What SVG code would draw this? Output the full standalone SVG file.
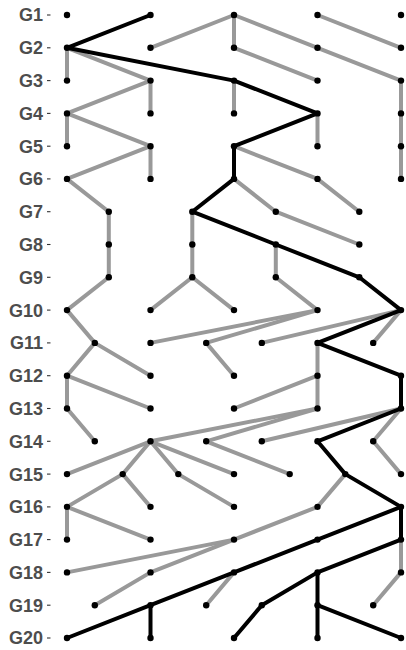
<svg xmlns="http://www.w3.org/2000/svg" width="406" height="650" viewBox="0 0 406 650">
<style>
.lbl{font-family:"Liberation Sans",Arial,sans-serif;font-weight:bold;font-size:18px;fill:#4D4D4D;text-anchor:end}
.tick{stroke:#333;stroke-width:1.1}
.e{fill:none;stroke-width:4;stroke-linecap:round;stroke-linejoin:round}
.g{stroke:#999999}
.b{stroke:#000000}
.n circle{fill:#000}
</style>
<rect width="406" height="650" fill="#fff"/>
<g id="axis">
<g class="tick">
<line x1="47" x2="50.5" y1="15" y2="15"/><line x1="47" x2="50.5" y1="47.8" y2="47.8"/><line x1="47" x2="50.5" y1="80.6" y2="80.6"/><line x1="47" x2="50.5" y1="113.4" y2="113.4"/><line x1="47" x2="50.5" y1="146.2" y2="146.2"/><line x1="47" x2="50.5" y1="178.9" y2="178.9"/><line x1="47" x2="50.5" y1="211.7" y2="211.7"/><line x1="47" x2="50.5" y1="244.5" y2="244.5"/><line x1="47" x2="50.5" y1="277.3" y2="277.3"/><line x1="47" x2="50.5" y1="310.1" y2="310.1"/><line x1="47" x2="50.5" y1="342.9" y2="342.9"/><line x1="47" x2="50.5" y1="375.7" y2="375.7"/><line x1="47" x2="50.5" y1="408.5" y2="408.5"/><line x1="47" x2="50.5" y1="441.3" y2="441.3"/><line x1="47" x2="50.5" y1="474.1" y2="474.1"/><line x1="47" x2="50.5" y1="506.9" y2="506.9"/><line x1="47" x2="50.5" y1="539.6" y2="539.6"/><line x1="47" x2="50.5" y1="572.4" y2="572.4"/><line x1="47" x2="50.5" y1="605.2" y2="605.2"/><line x1="47" x2="50.5" y1="638" y2="638"/>
</g>
<text class="lbl" x="43" y="21.4">G1</text>
<text class="lbl" x="43" y="54.2">G2</text>
<text class="lbl" x="43" y="87">G3</text>
<text class="lbl" x="43" y="119.8">G4</text>
<text class="lbl" x="43" y="152.6">G5</text>
<text class="lbl" x="43" y="185.3">G6</text>
<text class="lbl" x="43" y="218.1">G7</text>
<text class="lbl" x="43" y="250.9">G8</text>
<text class="lbl" x="43" y="283.7">G9</text>
<text class="lbl" x="43" y="316.5">G10</text>
<text class="lbl" x="43" y="349.3">G11</text>
<text class="lbl" x="43" y="382.1">G12</text>
<text class="lbl" x="43" y="414.9">G13</text>
<text class="lbl" x="43" y="447.7">G14</text>
<text class="lbl" x="43" y="480.5">G15</text>
<text class="lbl" x="43" y="513.3">G16</text>
<text class="lbl" x="43" y="546">G17</text>
<text class="lbl" x="43" y="578.8">G18</text>
<text class="lbl" x="43" y="611.6">G19</text>
<text class="lbl" x="43" y="644.4">G20</text>
</g>
<g id="connectors">
<g class="e g">
<path d="M234 15L150.5 47.8"/><path d="M234 15L234 47.8"/><path d="M234 15L317.5 47.8"/><path d="M317.5 15L401 47.8"/>
<path d="M67 47.8L67 80.6"/><path d="M67 47.8L150.5 80.6"/><path d="M234 47.8L317.5 80.6"/><path d="M317.5 47.8L401 80.6"/>
<path d="M150.5 80.6L67 113.4"/><path d="M150.5 80.6L150.5 113.4"/><path d="M234 80.6L234 113.4"/><path d="M401 80.6L401 113.4"/>
<path d="M67 113.4L67 146.2"/><path d="M67 113.4L150.5 146.2"/><path d="M317.5 113.4L317.5 146.2"/><path d="M401 113.4L401 146.2"/>
<path d="M150.5 146.2L67 178.9"/><path d="M150.5 146.2L150.5 178.9"/><path d="M234 146.2L317.5 178.9"/><path d="M401 146.2L401 178.9"/>
<path d="M67 178.9L108.8 211.7"/><path d="M234 178.9L275.8 211.7"/><path d="M317.5 178.9L359.3 211.7"/>
<path d="M108.8 211.7L108.8 244.5"/><path d="M192.3 211.7L192.3 244.5"/><path d="M275.8 211.7L359.3 244.5"/>
<path d="M108.8 244.5L108.8 277.3"/><path d="M192.3 244.5L192.3 277.3"/><path d="M275.8 244.5L275.8 277.3"/>
<path d="M108.8 277.3L67 310.1"/><path d="M192.3 277.3L150.5 310.1"/><path d="M192.3 277.3L234 310.1"/><path d="M275.8 277.3L317.5 310.1"/>
<path d="M67 310.1L94.8 342.9"/><path d="M317.5 310.1L150.5 342.9"/><path d="M317.5 310.1L206.2 342.9"/><path d="M401 310.1L261.8 342.9"/><path d="M401 310.1L373.2 342.9"/>
<path d="M94.8 342.9L67 375.7"/><path d="M94.8 342.9L150.5 375.7"/><path d="M206.2 342.9L234 375.7"/><path d="M317.5 342.9L317.5 375.7"/>
<path d="M67 375.7L67 408.5"/><path d="M67 375.7L150.5 408.5"/><path d="M317.5 375.7L234 408.5"/><path d="M317.5 375.7L317.5 408.5"/>
<path d="M67 408.5L94.8 441.3"/><path d="M317.5 408.5L150.5 441.3"/><path d="M317.5 408.5L206.2 441.3"/><path d="M401 408.5L261.8 441.3"/><path d="M401 408.5L373.2 441.3"/>
<path d="M150.5 441.3L67 474.1"/><path d="M150.5 441.3L122.7 474.1"/><path d="M150.5 441.3L178.3 474.1"/><path d="M150.5 441.3L234 474.1"/><path d="M206.2 441.3L289.7 474.1"/><path d="M373.2 441.3L401 474.1"/>
<path d="M122.7 474.1L67 506.9"/><path d="M122.7 474.1L150.5 506.9"/><path d="M178.3 474.1L234 506.9"/><path d="M345.3 474.1L317.5 506.9"/>
<path d="M67 506.9L67 539.6"/><path d="M67 506.9L150.5 539.6"/><path d="M317.5 506.9L234 539.6"/>
<path d="M234 539.6L67 572.4"/><path d="M234 539.6L150.5 572.4"/><path d="M401 539.6L401 572.4"/>
<path d="M150.5 572.4L94.8 605.2"/><path d="M234 572.4L206.2 605.2"/><path d="M401 572.4L373.2 605.2"/>
</g>
<g class="e b">
<path d="M150.5 15L67 47.8"/><path d="M67 47.8L234 80.6"/><path d="M234 80.6L317.5 113.4"/><path d="M317.5 113.4L234 146.2"/><path d="M234 146.2L234 178.9"/><path d="M234 178.9L192.3 211.7"/><path d="M192.3 211.7L275.8 244.5"/><path d="M275.8 244.5L359.3 277.3"/><path d="M359.3 277.3L401 310.1"/><path d="M401 310.1L317.5 342.9"/><path d="M317.5 342.9L401 375.7"/><path d="M401 375.7L401 408.5"/><path d="M401 408.5L317.5 441.3"/><path d="M317.5 441.3L345.3 474.1"/><path d="M345.3 474.1L401 506.9"/>
<path d="M401 506.9L317.5 539.6"/><path d="M401 506.9L401 539.6"/>
<path d="M317.5 539.6L234 572.4"/><path d="M401 539.6L317.5 572.4"/>
<path d="M234 572.4L150.5 605.2"/><path d="M317.5 572.4L261.8 605.2"/><path d="M317.5 572.4L317.5 605.2"/>
<path d="M150.5 605.2L67 638"/><path d="M150.5 605.2L150.5 638"/><path d="M261.8 605.2L234 638"/><path d="M317.5 605.2L317.5 638"/><path d="M317.5 605.2L401 638"/>
</g>
</g>
<g id="nodes" class="n">
<g id="g1-0"><circle cx="67" cy="15" r="3.2"/></g><g id="g1-3"><circle cx="150.5" cy="15" r="3.2"/></g><g id="g1-6"><circle cx="234" cy="15" r="3.2"/></g><g id="g1-9"><circle cx="317.5" cy="15" r="3.2"/></g><g id="g1-12"><circle cx="401" cy="15" r="3.2"/></g>
<g id="g2-0"><circle cx="67" cy="47.8" r="3.2"/></g><g id="g2-3"><circle cx="150.5" cy="47.8" r="3.2"/></g><g id="g2-6"><circle cx="234" cy="47.8" r="3.2"/></g><g id="g2-9"><circle cx="317.5" cy="47.8" r="3.2"/></g><g id="g2-12"><circle cx="401" cy="47.8" r="3.2"/></g>
<g id="g3-0"><circle cx="67" cy="80.6" r="3.2"/></g><g id="g3-3"><circle cx="150.5" cy="80.6" r="3.2"/></g><g id="g3-6"><circle cx="234" cy="80.6" r="3.2"/></g><g id="g3-9"><circle cx="317.5" cy="80.6" r="3.2"/></g><g id="g3-12"><circle cx="401" cy="80.6" r="3.2"/></g>
<g id="g4-0"><circle cx="67" cy="113.4" r="3.2"/></g><g id="g4-3"><circle cx="150.5" cy="113.4" r="3.2"/></g><g id="g4-6"><circle cx="234" cy="113.4" r="3.2"/></g><g id="g4-9"><circle cx="317.5" cy="113.4" r="3.2"/></g><g id="g4-12"><circle cx="401" cy="113.4" r="3.2"/></g>
<g id="g5-0"><circle cx="67" cy="146.2" r="3.2"/></g><g id="g5-3"><circle cx="150.5" cy="146.2" r="3.2"/></g><g id="g5-6"><circle cx="234" cy="146.2" r="3.2"/></g><g id="g5-9"><circle cx="317.5" cy="146.2" r="3.2"/></g><g id="g5-12"><circle cx="401" cy="146.2" r="3.2"/></g>
<g id="g6-0"><circle cx="67" cy="178.9" r="3.2"/></g><g id="g6-3"><circle cx="150.5" cy="178.9" r="3.2"/></g><g id="g6-6"><circle cx="234" cy="178.9" r="3.2"/></g><g id="g6-9"><circle cx="317.5" cy="178.9" r="3.2"/></g><g id="g6-12"><circle cx="401" cy="178.9" r="3.2"/></g>
<g id="g7-1"><circle cx="108.8" cy="211.7" r="3.2"/></g><g id="g7-2"><circle cx="192.3" cy="211.7" r="3.2"/></g><g id="g7-3"><circle cx="275.8" cy="211.7" r="3.2"/></g><g id="g7-4"><circle cx="359.3" cy="211.7" r="3.2"/></g>
<g id="g8-1"><circle cx="108.8" cy="244.5" r="3.2"/></g><g id="g8-2"><circle cx="192.3" cy="244.5" r="3.2"/></g><g id="g8-3"><circle cx="275.8" cy="244.5" r="3.2"/></g><g id="g8-4"><circle cx="359.3" cy="244.5" r="3.2"/></g>
<g id="g9-1"><circle cx="108.8" cy="277.3" r="3.2"/></g><g id="g9-2"><circle cx="192.3" cy="277.3" r="3.2"/></g><g id="g9-3"><circle cx="275.8" cy="277.3" r="3.2"/></g><g id="g9-4"><circle cx="359.3" cy="277.3" r="3.2"/></g>
<g id="g10-0"><circle cx="67" cy="310.1" r="3.2"/></g><g id="g10-3"><circle cx="150.5" cy="310.1" r="3.2"/></g><g id="g10-6"><circle cx="234" cy="310.1" r="3.2"/></g><g id="g10-9"><circle cx="317.5" cy="310.1" r="3.2"/></g><g id="g10-12"><circle cx="401" cy="310.1" r="3.2"/></g>
<g id="g11-1"><circle cx="94.8" cy="342.9" r="3.2"/></g><g id="g11-3"><circle cx="150.5" cy="342.9" r="3.2"/></g><g id="g11-5"><circle cx="206.2" cy="342.9" r="3.2"/></g><g id="g11-7"><circle cx="261.8" cy="342.9" r="3.2"/></g><g id="g11-9"><circle cx="317.5" cy="342.9" r="3.2"/></g><g id="g11-11"><circle cx="373.2" cy="342.9" r="3.2"/></g>
<g id="g12-0"><circle cx="67" cy="375.7" r="3.2"/></g><g id="g12-3"><circle cx="150.5" cy="375.7" r="3.2"/></g><g id="g12-6"><circle cx="234" cy="375.7" r="3.2"/></g><g id="g12-9"><circle cx="317.5" cy="375.7" r="3.2"/></g><g id="g12-12"><circle cx="401" cy="375.7" r="3.2"/></g>
<g id="g13-0"><circle cx="67" cy="408.5" r="3.2"/></g><g id="g13-3"><circle cx="150.5" cy="408.5" r="3.2"/></g><g id="g13-6"><circle cx="234" cy="408.5" r="3.2"/></g><g id="g13-9"><circle cx="317.5" cy="408.5" r="3.2"/></g><g id="g13-12"><circle cx="401" cy="408.5" r="3.2"/></g>
<g id="g14-1"><circle cx="94.8" cy="441.3" r="3.2"/></g><g id="g14-3"><circle cx="150.5" cy="441.3" r="3.2"/></g><g id="g14-5"><circle cx="206.2" cy="441.3" r="3.2"/></g><g id="g14-7"><circle cx="261.8" cy="441.3" r="3.2"/></g><g id="g14-9"><circle cx="317.5" cy="441.3" r="3.2"/></g><g id="g14-11"><circle cx="373.2" cy="441.3" r="3.2"/></g>
<g id="g15-0"><circle cx="67" cy="474.1" r="3.2"/></g><g id="g15-2"><circle cx="122.7" cy="474.1" r="3.2"/></g><g id="g15-4"><circle cx="178.3" cy="474.1" r="3.2"/></g><g id="g15-6"><circle cx="234" cy="474.1" r="3.2"/></g><g id="g15-8"><circle cx="289.7" cy="474.1" r="3.2"/></g><g id="g15-10"><circle cx="345.3" cy="474.1" r="3.2"/></g><g id="g15-12"><circle cx="401" cy="474.1" r="3.2"/></g>
<g id="g16-0"><circle cx="67" cy="506.9" r="3.2"/></g><g id="g16-3"><circle cx="150.5" cy="506.9" r="3.2"/></g><g id="g16-6"><circle cx="234" cy="506.9" r="3.2"/></g><g id="g16-9"><circle cx="317.5" cy="506.9" r="3.2"/></g><g id="g16-12"><circle cx="401" cy="506.9" r="3.2"/></g>
<g id="g17-0"><circle cx="67" cy="539.6" r="3.2"/></g><g id="g17-3"><circle cx="150.5" cy="539.6" r="3.2"/></g><g id="g17-6"><circle cx="234" cy="539.6" r="3.2"/></g><g id="g17-9"><circle cx="317.5" cy="539.6" r="3.2"/></g><g id="g17-12"><circle cx="401" cy="539.6" r="3.2"/></g>
<g id="g18-0"><circle cx="67" cy="572.4" r="3.2"/></g><g id="g18-3"><circle cx="150.5" cy="572.4" r="3.2"/></g><g id="g18-6"><circle cx="234" cy="572.4" r="3.2"/></g><g id="g18-9"><circle cx="317.5" cy="572.4" r="3.2"/></g><g id="g18-12"><circle cx="401" cy="572.4" r="3.2"/></g>
<g id="g19-1"><circle cx="94.8" cy="605.2" r="3.2"/></g><g id="g19-3"><circle cx="150.5" cy="605.2" r="3.2"/></g><g id="g19-5"><circle cx="206.2" cy="605.2" r="3.2"/></g><g id="g19-7"><circle cx="261.8" cy="605.2" r="3.2"/></g><g id="g19-9"><circle cx="317.5" cy="605.2" r="3.2"/></g><g id="g19-11"><circle cx="373.2" cy="605.2" r="3.2"/></g>
<g id="g20-0"><circle cx="67" cy="638" r="3.2"/></g><g id="g20-3"><circle cx="150.5" cy="638" r="3.2"/></g><g id="g20-6"><circle cx="234" cy="638" r="3.2"/></g><g id="g20-9"><circle cx="317.5" cy="638" r="3.2"/></g><g id="g20-12"><circle cx="401" cy="638" r="3.2"/></g>
</g>
</svg>
